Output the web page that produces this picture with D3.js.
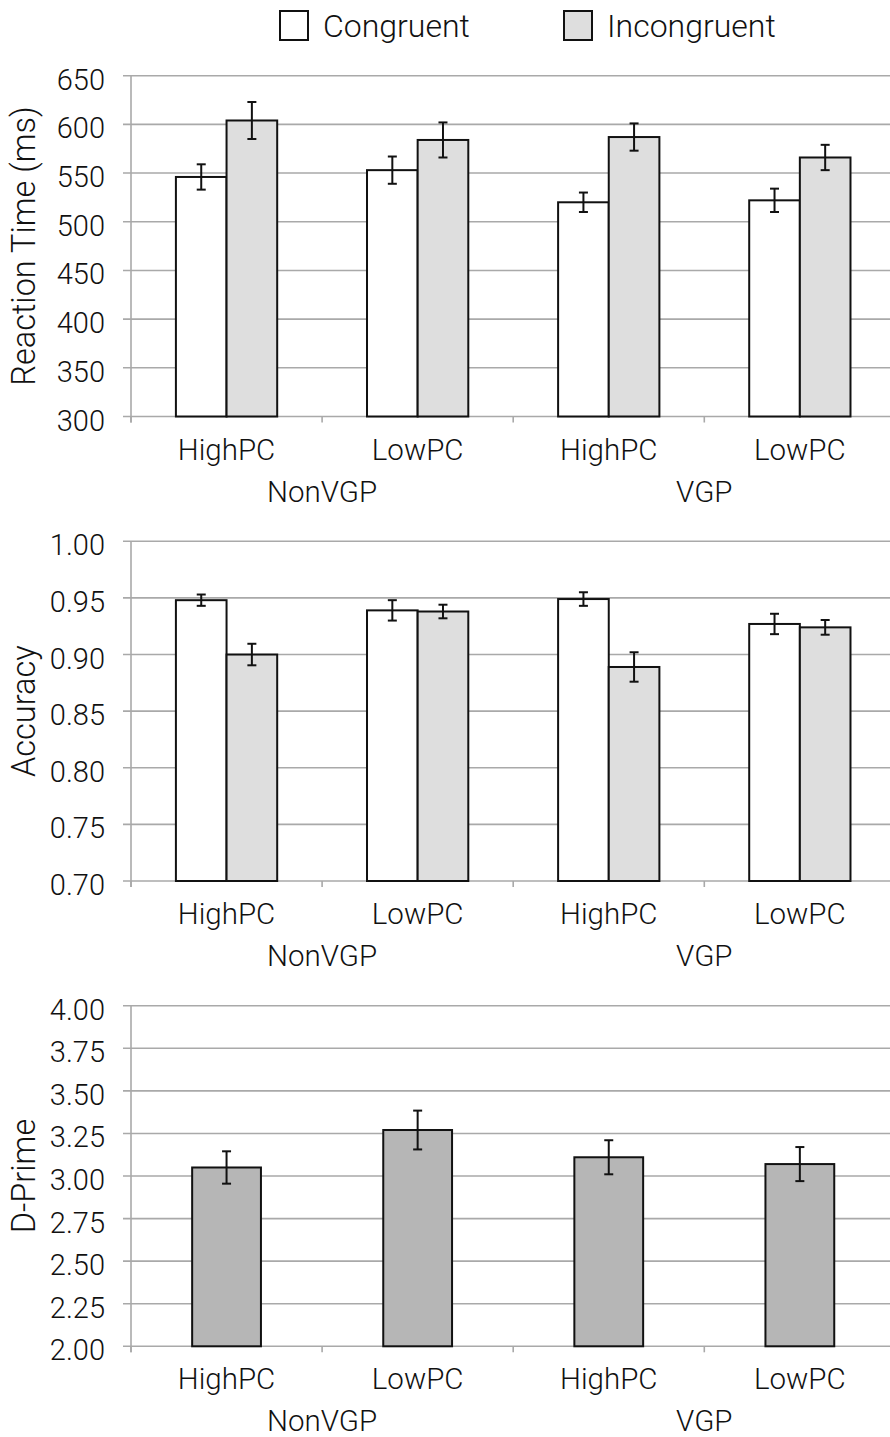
<!DOCTYPE html>
<html>
<head>
<meta charset="utf-8">
<script src="https://cdn.jsdelivr.net/npm/d3@7/dist/d3.min.js"></script>
<style>
  html, body { margin: 0; padding: 0; background: #fff; }
  svg { display: block; }
  text { font-family: Roboto, "Liberation Sans", Arial, sans-serif; font-weight: 300; fill: #111; }
</style>
</head>
<body>
<svg id="chart" width="890" height="1437"></svg>
<script>
// Condition labels
const conditions = ["HighPC", "LowPC", "HighPC", "LowPC"];
const groups = ["NonVGP", "VGP"];
const seriesNames = ["Congruent", "Incongruent"];

// Reaction time (ms)
const rtCongruent = [546, 553, 520, 522];
const rtCongruentErr = [13, 14, 10, 12];
const rtIncongruent = [604, 584, 587, 566];
const rtIncongruentErr = [19, 18, 14, 13];
const rtTicks = [300, 350, 400, 450, 500, 550, 600, 650];

// Accuracy (proportion correct)
const accCongruent = [0.948, 0.939, 0.949, 0.927];
const accCongruentErr = [0.005, 0.009, 0.006, 0.009];
const accIncongruent = [0.900, 0.938, 0.889, 0.924];
const accIncongruentErr = [0.0095, 0.006, 0.013, 0.0065];
const accTicks = [0.70, 0.75, 0.80, 0.85, 0.90, 0.95, 1.00];

// Sensitivity (d')
const dPrime = [3.05, 3.27, 3.11, 3.07];
const dPrimeErr = [0.095, 0.114, 0.10, 0.10];
const dTicks = [2.00, 2.25, 2.50, 2.75, 3.00, 3.25, 3.50, 3.75, 4.00];

const svg = d3.select("#chart");
const gridColor = "#a9a9a9";
const fills = { Congruent: "#ffffff", Incongruent: "#dedede", DPrime: "#b6b6b6" };

const plotLeft = 131;
const bandW = 191.1;
const x0 = d3.scaleBand()
  .domain(d3.range(conditions.length))
  .range([plotLeft, plotLeft + bandW * conditions.length])
  .padding(0);

function drawPanel(opts) {
  const { top, bottom, domain, ticks, fmt, title, series } = opts;
  const g = svg.append("g");
  const y = d3.scaleLinear().domain(domain).range([bottom, top]);

  // horizontal gridlines with small outer ticks on the left
  g.append("g").selectAll("line").data(ticks).join("line")
    .attr("x1", plotLeft - 8).attr("x2", 890)
    .attr("y1", d => y(d)).attr("y2", d => y(d))
    .attr("stroke", gridColor).attr("stroke-width", 1.6);

  // y axis line
  g.append("line")
    .attr("x1", plotLeft).attr("x2", plotLeft)
    .attr("y1", top).attr("y2", bottom + 6)
    .attr("stroke", gridColor).attr("stroke-width", 1.6);

  // category ticks on the x axis
  g.append("g").selectAll("line").data(d3.range(conditions.length + 1)).join("line")
    .attr("x1", i => plotLeft + i * x0.bandwidth())
    .attr("x2", i => plotLeft + i * x0.bandwidth())
    .attr("y1", bottom).attr("y2", bottom + 6)
    .attr("stroke", gridColor).attr("stroke-width", 1.6);

  // y tick labels
  g.append("g").selectAll("text").data(ticks).join("text")
    .attr("x", 105).attr("y", d => y(d) + 4)
    .attr("text-anchor", "end").attr("dominant-baseline", "central")
    .attr("font-size", 29)
    .text(fmt);

  // axis title
  g.append("text")
    .attr("transform", `translate(35,${(top + bottom) / 2}) rotate(-90)`)
    .attr("text-anchor", "middle")
    .attr("font-size", 32.5)
    .text(title);

  // bars
  const inner = d3.scaleBand()
    .domain(series.map(s => s.name))
    .range(series.length > 1 ? [x0.bandwidth() * 0.235, x0.bandwidth() * 0.765]
                             : [x0.bandwidth() * 0.32, x0.bandwidth() * 0.68])
    .padding(0);

  series.forEach(s => {
    const rows = s.values.map((v, i) => ({ i, v, e: s.errors[i] }));
    const sg = g.append("g");
    sg.selectAll("rect").data(rows).join("rect")
      .attr("x", d => x0(d.i) + inner(s.name))
      .attr("width", inner.bandwidth())
      .attr("y", d => y(d.v))
      .attr("height", d => y(domain[0]) - y(d.v))
      .attr("fill", s.fill)
      .attr("stroke", "#111").attr("stroke-width", 2);

    const cx = d => x0(d.i) + inner(s.name) + inner.bandwidth() / 2;
    const eb = sg.selectAll("g.err").data(rows).join("g").attr("class", "err");
    eb.append("line")
      .attr("x1", cx).attr("x2", cx)
      .attr("y1", d => y(d.v + d.e)).attr("y2", d => y(d.v - d.e))
      .attr("stroke", "#111").attr("stroke-width", 2);
    eb.append("line")
      .attr("x1", d => cx(d) - 4.5).attr("x2", d => cx(d) + 4.5)
      .attr("y1", d => y(d.v + d.e)).attr("y2", d => y(d.v + d.e))
      .attr("stroke", "#111").attr("stroke-width", 2);
    eb.append("line")
      .attr("x1", d => cx(d) - 4.5).attr("x2", d => cx(d) + 4.5)
      .attr("y1", d => y(d.v - d.e)).attr("y2", d => y(d.v - d.e))
      .attr("stroke", "#111").attr("stroke-width", 2);
  });

  // category labels
  g.append("g").selectAll("text").data(conditions).join("text")
    .attr("x", (d, i) => x0(i) + x0.bandwidth() / 2)
    .attr("y", bottom + 43)
    .attr("text-anchor", "middle")
    .attr("font-size", 29.5)
    .text(d => d);

  // group labels
  g.append("g").selectAll("text").data(groups).join("text")
    .attr("x", (d, i) => x0(i * 2) + x0.bandwidth())
    .attr("y", bottom + 85)
    .attr("text-anchor", "middle")
    .attr("font-size", 29.5)
    .text(d => d);
}

// Legend
const legend = svg.append("g");
const legendX = [280, 564];
seriesNames.forEach((name, i) => {
  legend.append("rect")
    .attr("x", legendX[i]).attr("y", 11)
    .attr("width", 28).attr("height", 29)
    .attr("fill", fills[name]).attr("stroke", "#111").attr("stroke-width", 2);
  legend.append("text")
    .attr("x", legendX[i] + 43).attr("y", 37)
    .attr("font-size", 32)
    .text(name);
});

drawPanel({
  top: 75.7, bottom: 416.5, domain: [300, 650], ticks: rtTicks,
  fmt: d3.format("d"), title: "Reaction Time (ms)",
  series: [
    { name: "Congruent", values: rtCongruent, errors: rtCongruentErr, fill: fills.Congruent },
    { name: "Incongruent", values: rtIncongruent, errors: rtIncongruentErr, fill: fills.Incongruent }
  ]
});

drawPanel({
  top: 541.3, bottom: 881, domain: [0.70, 1.00], ticks: accTicks,
  fmt: d3.format(".2f"), title: "Accuracy",
  series: [
    { name: "Congruent", values: accCongruent, errors: accCongruentErr, fill: fills.Congruent },
    { name: "Incongruent", values: accIncongruent, errors: accIncongruentErr, fill: fills.Incongruent }
  ]
});

drawPanel({
  top: 1005.7, bottom: 1346.3, domain: [2.00, 4.00], ticks: dTicks,
  fmt: d3.format(".2f"), title: "D-Prime",
  series: [
    { name: "DPrime", values: dPrime, errors: dPrimeErr, fill: fills.DPrime }
  ]
});
</script>
</body>
</html>
